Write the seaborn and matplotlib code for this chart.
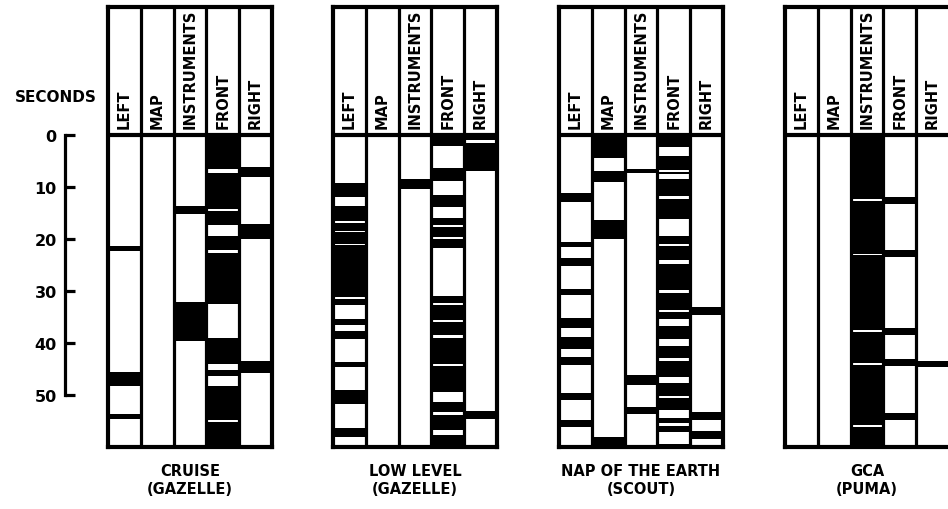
import matplotlib
matplotlib.use("Agg")
import matplotlib.pyplot as plt
import seaborn as sns

sns.set_theme(style="white")
plt.rcParams["font.family"] = ["DejaVu Sans"]

COLUMNS = ["LEFT", "MAP", "INSTRUMENTS", "FRONT", "RIGHT"]
SECONDS_TICKS = [0, 10, 20, 30, 40, 50]
DURATION = 60
TITLES = ["CRUISE\n(GAZELLE)", "LOW LEVEL\n(GAZELLE)",
          "NAP OF THE EARTH\n(SCOUT)", "GCA\n(PUMA)"]

# black periods = eyes on that area, (start, end) in seconds
cruise_left = [(21.3, 22.4), (45.5, 48.2), (53.7, 54.6)]
cruise_map = []
cruise_instr = [(13.6, 15.1), (32.1, 39.6)]
cruise_front = [(0, 6.5), (7.3, 14.2), (14.6, 17.4), (19.5, 22.2), (22.6, 32.5),
                (39.0, 44.0), (45.1, 46.4), (48.2, 54.8), (55.1, 60)]
cruise_right = [(6.1, 8.1), (17.1, 20.0), (43.5, 45.8)]

low_left = [(9.2, 12.0), (13.6, 16.6), (16.9, 18.4), (18.7, 20.9), (21.2, 31.2),
            (31.5, 32.6), (35.3, 36.5), (37.6, 39.2), (43.7, 44.7), (49.0, 51.7),
            (56.3, 58.1)]
low_map = []
low_instr = [(8.5, 10.3)]
low_front = [(0, 2.1), (6.4, 8.8), (11.5, 13.9), (16.0, 17.3), (17.6, 19.6),
             (20.0, 21.8), (30.9, 32.3), (32.6, 35.6), (36.0, 38.5), (39.0, 44.0),
             (44.5, 49.4), (51.4, 53.3), (53.8, 56.7), (57.7, 60)]
low_right = [(0, 0.9), (1.6, 7.0), (53.0, 54.6)]

noe_left = [(11.2, 12.9), (20.6, 21.6), (23.7, 25.1), (29.6, 30.7), (35.1, 37.1),
            (38.9, 41.2), (42.6, 44.2), (49.7, 51.0), (54.8, 56.1)]
noe_map = [(0, 4.5), (7.0, 9.0), (16.3, 20.0), (58.1, 60)]
noe_instr = [(6.6, 7.3), (46.2, 48.1), (52.4, 53.7)]
noe_front = [(0, 2.4), (4.0, 6.7), (7.1, 7.5), (8.5, 11.8), (12.3, 16.2),
             (19.5, 21.0), (21.3, 24.0), (24.8, 29.9), (30.3, 33.6), (34.0, 35.4),
             (36.7, 39.2), (40.5, 42.8), (43.5, 46.6), (47.6, 50.1), (50.6, 52.9),
             (54.5, 55.3), (55.9, 57.1), (59.4, 60)]
noe_right = [(33.1, 34.6), (53.2, 54.9), (56.9, 58.5)]

gca_left = []
gca_map = []
gca_instr = [(0, 12.4), (12.7, 22.8), (23.1, 37.5), (37.8, 43.8), (44.3, 55.8),
             (56.1, 60)]
gca_front = [(11.9, 13.3), (22.2, 23.5), (37.1, 38.4), (43.1, 44.5), (53.5, 54.9)]
gca_right = [(43.4, 44.7)]

panels = [
    [cruise_left, cruise_map, cruise_instr, cruise_front, cruise_right],
    [low_left, low_map, low_instr, low_front, low_right],
    [noe_left, noe_map, noe_instr, noe_front, noe_right],
    [gca_left, gca_map, gca_instr, gca_front, gca_right],
]

W, H = 948, 510
fig = plt.figure(figsize=(W / 100, H / 100), dpi=100)
fig.patch.set_facecolor("white")

# 0 s sits at y=136 px, 5.2 px per second; header is 25 s tall
top_s, bot_s = -24.6, DURATION
y_top_px = 136 + top_s * 5.2
y_bot_px = 136 + bot_s * 5.2
ax_bottom = 1 - y_bot_px / H
ax_height = (y_bot_px - y_top_px) / H

panel_left_px = [108, 333, 559, 785]
panel_width_px = 164

for left_px, cols, title in zip(panel_left_px, panels, TITLES):
    ax = fig.add_axes([left_px / W, ax_bottom, panel_width_px / W, ax_height])
    ax.set_xlim(0, 5)
    ax.set_ylim(bot_s, top_s)
    ax.set_facecolor("white")
    for i, periods in enumerate(cols):
        for start, end in periods:
            ax.bar(i + 0.5, end - start, bottom=start, width=1.0,
                   color="black", linewidth=0)
        ax.text(i + 0.5, -1.4, COLUMNS[i], rotation=90, ha="center",
                va="bottom", fontsize=10.5, fontweight="bold", color="black")
    for x in range(1, 5):
        ax.axvline(x, color="black", lw=2.3)
    ax.axhline(0, color="black", lw=3)
    for sp in ax.spines.values():
        sp.set_visible(True)
        sp.set_color("black")
        sp.set_linewidth(3)
    ax.set_xticks([])
    ax.set_yticks([])
    ax.text(2.5, 63.0, title, ha="center", va="top", fontsize=10.5,
            fontweight="bold", color="black", linespacing=1.3)

# seconds scale
ax_s = fig.add_axes([65 / W, ax_bottom, 0.04, ax_height])
ax_s.set_ylim(bot_s, top_s)
ax_s.patch.set_alpha(0)
for name in ["top", "right", "bottom"]:
    ax_s.spines[name].set_visible(False)
ax_s.spines["left"].set_linewidth(2.3)
ax_s.spines["left"].set_color("black")
ax_s.spines["left"].set_bounds(0, 50)
ax_s.set_xticks([])
ax_s.set_yticks(SECONDS_TICKS)
ax_s.set_yticklabels([str(t) for t in SECONDS_TICKS], fontsize=11.5,
                     fontweight="bold")
ax_s.tick_params(axis="y", direction="in", length=7, width=2.3,
                 color="black", labelcolor="black", pad=6, left=True)
fig.text(56 / W, 1 - 97 / H, "SECONDS", ha="center", va="center",
         fontsize=11, fontweight="bold", color="black")

fig.savefig("out.png", dpi=100, facecolor="white")
